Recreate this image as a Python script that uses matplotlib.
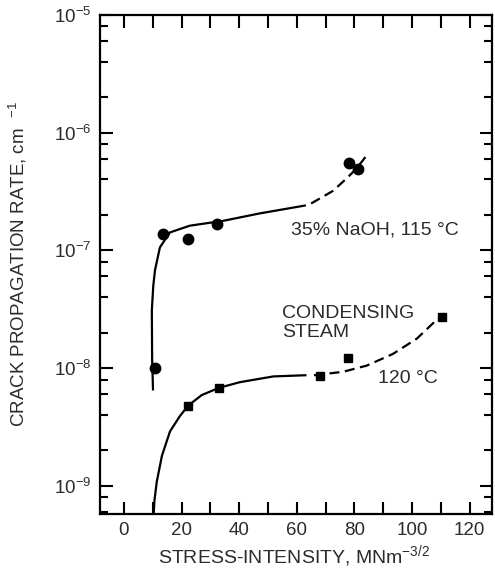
import matplotlib
matplotlib.use("Agg")
import matplotlib.pyplot as plt
from matplotlib.ticker import FixedLocator, NullFormatter

plt.rcParams["font.family"] = ["Liberation Sans", "DejaVu Sans"]
plt.rcParams["mathtext.fontset"] = "custom"
plt.rcParams["mathtext.rm"] = "Liberation Sans"
plt.rcParams["mathtext.it"] = "Liberation Sans"

TEXT = "#2b2b2b"

# 35% NaOH, 115 C: measured points and drawn trend line
naoh_k = [10.8, 13.5, 22.2, 32.3, 78.1, 81.3]
naoh_rate = [1.0e-8, 1.37e-7, 1.26e-7, 1.66e-7, 5.5e-7, 4.9e-7]
naoh_solid_k = [10.1, 9.8, 9.7, 10.2, 10.8, 12.5, 16.0, 22.9, 34.4, 47.2, 62.8]
naoh_solid_rate = [6.6e-9, 1.2e-8, 3.1e-8, 5.0e-8, 6.8e-8, 1.06e-7, 1.42e-7,
                   1.62e-7, 1.78e-7, 2.06e-7, 2.4e-7]
naoh_dash_k = [65.0, 72.6, 77.4, 80.9, 84.7]
naoh_dash_rate = [2.5e-7, 3.2e-7, 4.1e-7, 5.0e-7, 6.6e-7]

# condensing steam, 120 C
steam_k = [22.3, 33.0, 68.0, 77.8, 110.4]
steam_rate = [4.8e-9, 6.8e-9, 8.5e-9, 1.23e-8, 2.7e-8]
steam_solid_k = [10.3, 10.6, 11.4, 13.2, 16.0, 19.4, 22.3, 27.0, 33.0, 40.3, 51.9, 63.0]
steam_solid_rate = [5.5e-10, 7.5e-10, 1.08e-9, 1.8e-9, 2.9e-9, 3.9e-9, 4.8e-9,
                    5.9e-9, 6.8e-9, 7.6e-9, 8.5e-9, 8.7e-9]
steam_dash_k = [66.0, 76.0, 84.3, 93.4, 101.7, 109.0]
steam_dash_rate = [8.7e-9, 9.3e-9, 1.05e-8, 1.32e-8, 1.78e-8, 2.63e-8]

x_ticks = list(range(0, 130, 10))
x_labels = [str(v) if v % 20 == 0 else "" for v in x_ticks]
y_major = [1e-9, 1e-8, 1e-7, 1e-6, 1e-5]
y_labels = [r"$10^{-9}$", r"$10^{-8}$", r"$10^{-7}$", r"$10^{-6}$", r"$10^{-5}$"]

fig = plt.figure(figsize=(4.95, 5.70), dpi=100)
ax = fig.add_axes([0.202, 0.098, 0.792, 0.876])

ax.plot(naoh_solid_k, naoh_solid_rate, color="black", lw=1.6)
ax.plot(naoh_dash_k, naoh_dash_rate, color="black", lw=1.6, dashes=(4.5, 2.5))
ax.plot(naoh_k, naoh_rate, "o", color="black", ms=7.5)

ax.plot(steam_solid_k, steam_solid_rate, color="black", lw=1.6)
ax.plot(steam_dash_k, steam_dash_rate, color="black", lw=1.6, dashes=(4.5, 2.5))
ax.plot(steam_k, steam_rate, "s", color="black", ms=5.5)

ax.set_yscale("log")
ax.set_xlim(-8.3, 127.8)
ax.set_ylim(10 ** -9.24, 1e-5)

ax.set_xticks(x_ticks)
ax.set_xticklabels(x_labels)
ax.set_yticks(y_major)
ax.set_yticklabels(y_labels)
minor = [m * 10.0 ** e for e in range(-10, -5) for m in (2, 4, 6, 8)]
ax.yaxis.set_minor_locator(FixedLocator(minor))
ax.yaxis.set_minor_formatter(NullFormatter())
ax.xaxis.set_minor_locator(FixedLocator([]))

ax.tick_params(which="both", direction="in", top=True, right=True,
               width=1.5, colors="black", labelcolor=TEXT, labelsize=13.5)
ax.tick_params(which="major", length=9, pad=6)
ax.tick_params(which="minor", length=6)
for s in ax.spines.values():
    s.set_linewidth(1.6)

ax.set_xlabel(r"STRESS-INTENSITY, MNm$^{-3/2}$", fontsize=14, color=TEXT)
ax.xaxis.label.set_va("baseline")
ax.xaxis.set_label_coords(0.495, -0.097)
ax.set_ylabel(r"CRACK PROPAGATION RATE, cm  $^{-1}$", fontsize=13.5, color=TEXT)
ax.yaxis.set_label_coords(-0.18, 0.5)

ax.text(87.0, 1.48e-7, "35% NaOH, 115 °C", fontsize=14, color=TEXT, ha="center", va="center")
ax.text(54.9, 2.92e-8, "CONDENSING", fontsize=14, color=TEXT, ha="left", va="center")
ax.text(54.9, 2.0e-8, "STEAM", fontsize=14, color=TEXT, ha="left", va="center")
ax.text(88.2, 8.2e-9, "120 °C", fontsize=14, color=TEXT, ha="left", va="center")

fig.savefig("out.png", dpi=100)
